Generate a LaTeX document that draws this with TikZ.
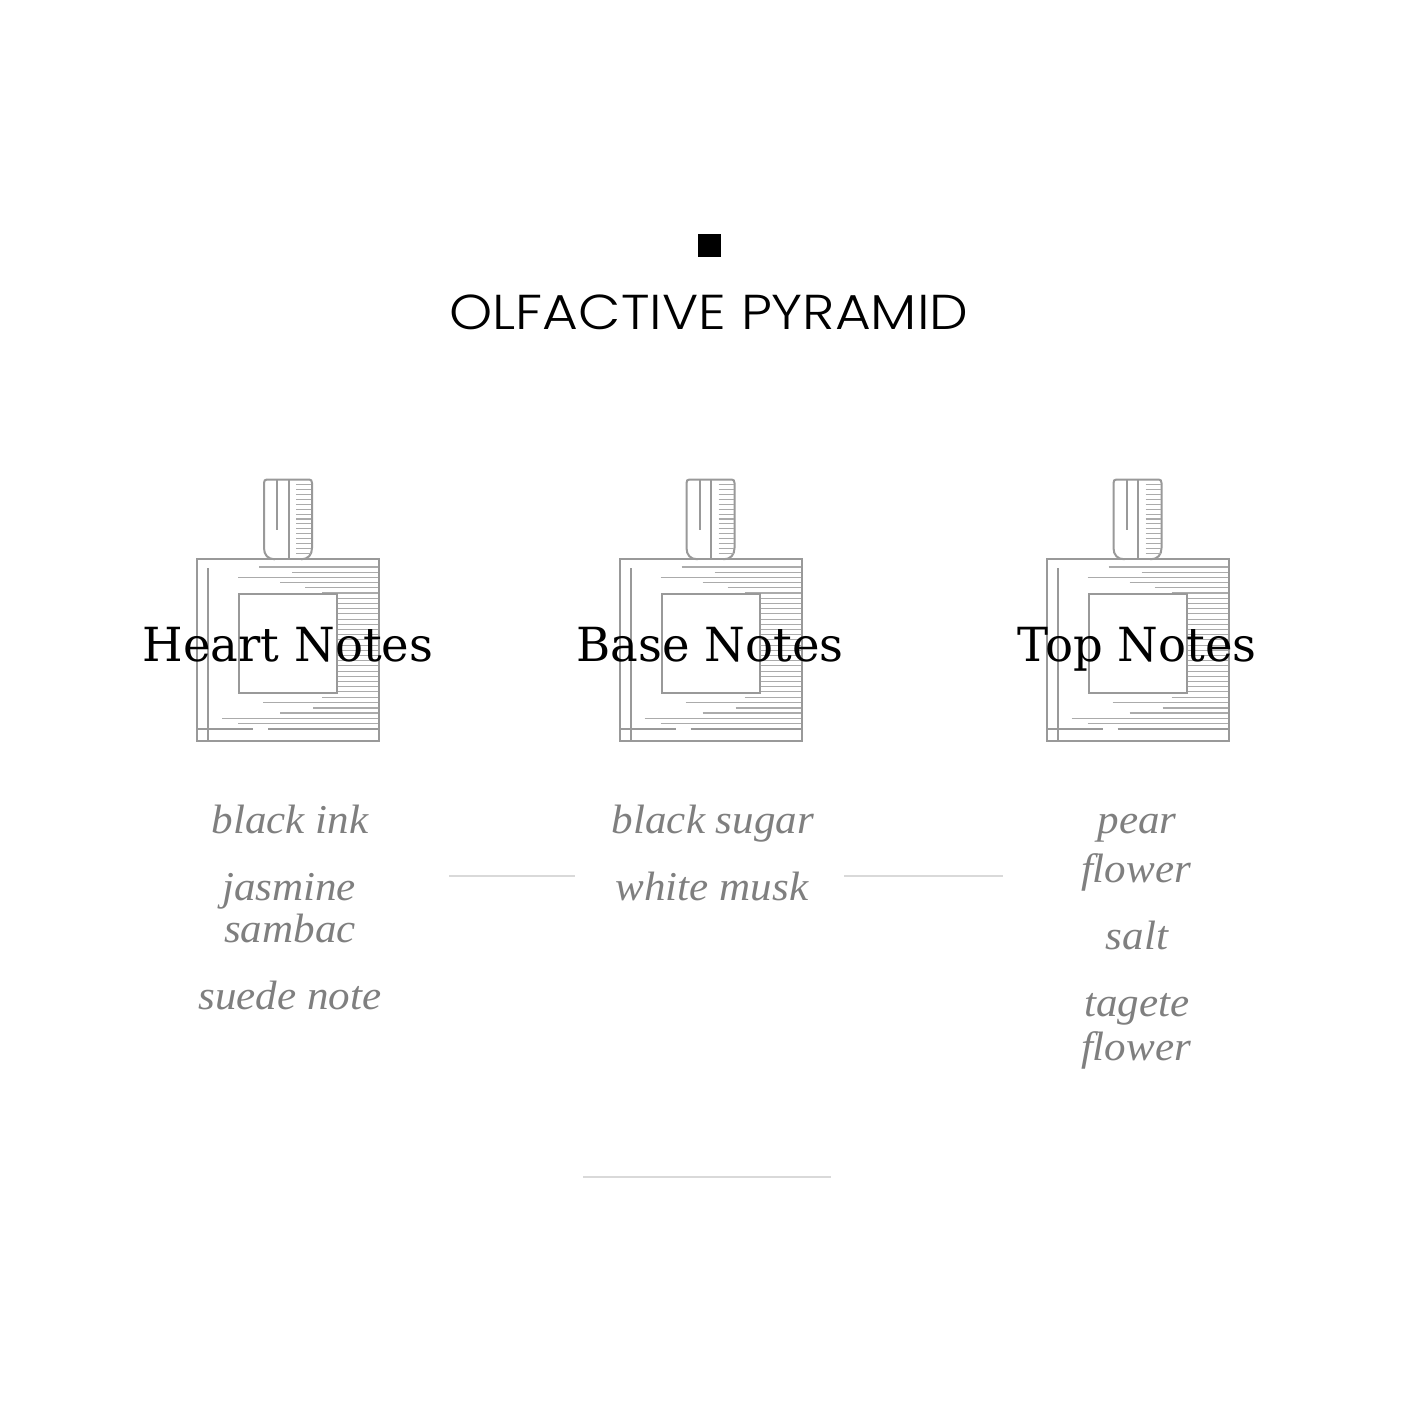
\documentclass[tikz,border=0pt]{standalone}
\usepackage{fontspec}
\setmainfont{Liberation Serif}
\newfontfamily\titlefont[UprightFont=* Light,FakeStretch=1.12]{Poppins}
\newfontfamily\headfont{DejaVu Serif}[FakeStretch=0.99]
\newfontfamily\notefont{Liberation Serif}[ItalicFont=* Italic,FakeStretch=1.05]
\definecolor{bottlegrey}{HTML}{999999}
\definecolor{hatchgrey}{HTML}{ABABAB}
\definecolor{rulegrey}{HTML}{D9D9D9}
\definecolor{notegrey}{HTML}{7F7F7F}
\tikzset{
  x=1pt,y=-1pt,
  bottleline/.style={draw=bottlegrey,line width=2pt},
  hatchline/.style={draw=hatchgrey,line width=1.1pt},
  ruleline/.style={draw=rulegrey,line width=1.7pt},
  headtext/.style={anchor=base,inner sep=0pt,font=\headfont\fontsize{47}{47}\selectfont,text=black},
  notetext/.style={anchor=base,inner sep=0pt,font=\notefont\itshape\fontsize{41}{41}\selectfont,text=notegrey},
  titletext/.style={anchor=base,inner sep=0pt,font=\titlefont\fontsize{49}{49}\selectfont,text=black},
  pics/perfume/.style={code={
    % cap
    \draw[bottleline] (275,559.3) .. controls (268,559.3) and (264,555) .. (264,548) -- (264,483) .. controls (264,480.5) and (265,479.5) .. (267,479.5) -- (309,479.5) .. controls (311,479.5) and (312,480.5) .. (312,483) -- (312,548) .. controls (312,555) and (308,559.3) .. (301,559.3);
    \draw[bottleline] (277,480) -- (277,530);
    \draw[bottleline] (288.7,480) -- (288.7,559);
    \foreach \yy in {484.7,489.6,...,556} \draw[hatchline] (296,\yy) -- (311,\yy);
    % body
    \draw[hatchline] \foreach \xs/\yy in {259/567,292/572.3,238/577.3,280/582.6,305/587.6,322/593,
      322/697.6,263/702.6,313/708,280/713,222/718.3,238/723.6} {(\xs,\yy) -- (378,\yy)};
    \foreach \yy in {598.3,603.5,...,692} \draw[hatchline] (338,\yy) -- (378,\yy);
    \draw[bottleline] (197.3,559.3) rectangle (379,740.7);
    \draw[bottleline] (208,568) -- (208,740.7);
    \draw[bottleline] (197.3,729.3) -- (253,729.3);
    \draw[bottleline] (268,729.3) -- (379,729.3);
    \draw[bottleline] (239,594) rectangle (337.3,692.7);
  }}
}
\begin{document}
\begin{tikzpicture}
\useasboundingbox (0,0) rectangle (1424,1424);
\fill[white] (0,0) rectangle (1424,1424);
\fill[black] (698,234) rectangle (721,257);
\node[titletext] (title) at (709,329) {OLFACTIVE PYRAMID};

\pic (b1) at (0,0) {perfume};
\pic (b2) at (422.5,0) {perfume};
\pic (b3) at (849.5,0) {perfume};

\node[headtext] (heart) at (288,661) {Heart Notes};
\node[headtext] (base) at (710,661) {Base Notes};
\node[headtext] (top) at (1137,661) {Top Notes};

\node[notetext] (n1) at (290,833) {black ink};
\node[notetext] (n2) at (289,900) {jasmine};
\node[notetext] (n3) at (290,942) {sambac};
\node[notetext] (n4) at (290,1009) {suede note};
\node[notetext] (n5) at (713,833) {black sugar};
\node[notetext] (n6) at (712,900) {white musk};
\node[notetext] (n7) at (1137,833) {pear};
\node[notetext] (n8) at (1136,882) {flower};
\node[notetext] (n9) at (1137,949) {salt};
\node[notetext] (n10) at (1137,1016) {tagete};
\node[notetext] (n11) at (1136,1060) {flower};

\coordinate (r1a) at (449,876); \coordinate (r1b) at (575,876);
\coordinate (r2a) at (844,876); \coordinate (r2b) at (1003,876);
\coordinate (r3a) at (583,1177); \coordinate (r3b) at (831,1177);
\draw[ruleline] (r1a) -- (r1b);
\draw[ruleline] (r2a) -- (r2b);
\draw[ruleline] (r3a) -- (r3b);
\end{tikzpicture}
\end{document}
